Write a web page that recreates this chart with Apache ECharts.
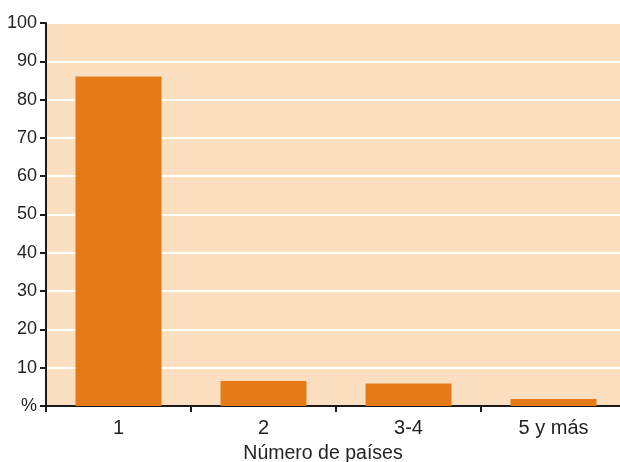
<!DOCTYPE html>
<html>
<head>
<meta charset="utf-8">
<script src="https://cdn.jsdelivr.net/npm/echarts@6/dist/echarts.min.js"></script>
<style>
  html, body { margin: 0; padding: 0; background: #fff; }
  #chart { width: 620px; height: 462px; }
</style>
</head>
<body>
<div id="chart"></div>
<script>
// datos
const categorias = ['1', '2', '3-4', '5 y más'];
const valores = [86, 6.5, 5.9, 1.8];
const ticksY = [0, 10, 20, 30, 40, 50, 60, 70, 80, 90, 100];

const chartDom = document.getElementById('chart');
const myChart = echarts.init(chartDom);
const fuente = '"Liberation Sans", Arial, sans-serif';

const option = {
  animation: false,
  grid: {
    left: 46,
    top: 23,
    width: 580,
    bottom: 56,
    outerBoundsMode: 'none',
    show: true,
    backgroundColor: '#fbdfc0',
    borderWidth: 0
  },
  xAxis: {
    type: 'category',
    data: categorias,
    name: 'Número de países',
    nameLocation: 'middle',
    nameGap: 38,
    nameTextStyle: { color: '#231f20', fontSize: 19.5, fontFamily: fuente, padding: [0, 26, 0, 0] },
    axisLine: { lineStyle: { color: '#1a1a1a', width: 2 } },
    axisTick: { show: true, length: 6, lineStyle: { color: '#1a1a1a', width: 2 } },
    axisLabel: { color: '#231f20', fontSize: 20, fontFamily: fuente, margin: 12 }
  },
  yAxis: {
    type: 'value',
    min: ticksY[0],
    max: ticksY[ticksY.length - 1],
    interval: 10,
    axisLine: { show: true, lineStyle: { color: '#1a1a1a', width: 2 } },
    axisTick: { show: true, length: 6, lineStyle: { color: '#1a1a1a', width: 2 } },
    axisLabel: {
      color: '#231f20', fontSize: 18, fontFamily: fuente, margin: 9,
      formatter: function (v) { return v === 0 ? '%' : String(v); }
    },
    splitLine: { show: true, lineStyle: { color: '#ffffff', width: 2 } }
  },
  series: [
    {
      type: 'bar',
      data: valores,
      barWidth: 86,
      itemStyle: { color: '#e67a19' }
    }
  ]
};

myChart.setOption(option);
</script>
</body>
</html>
